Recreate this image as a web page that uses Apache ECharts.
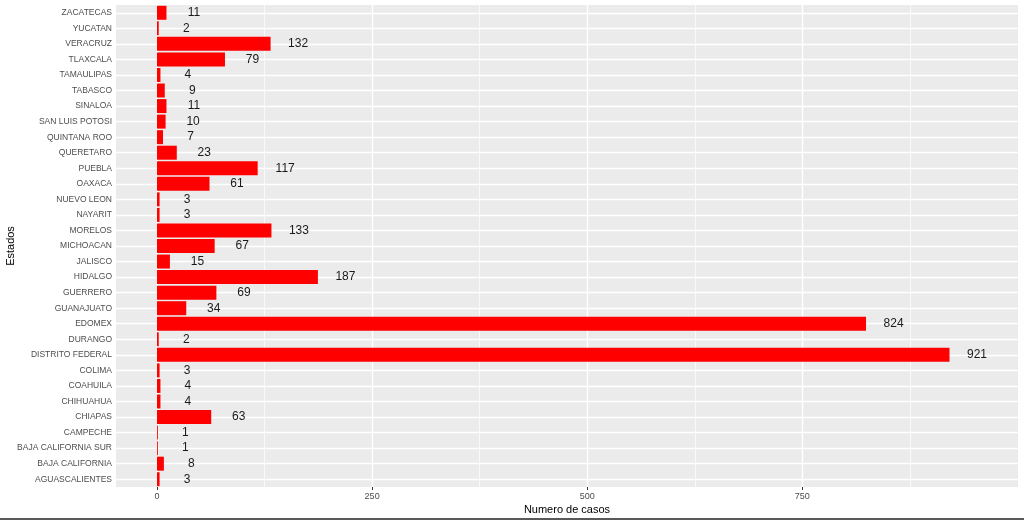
<!DOCTYPE html>
<html>
<head>
<meta charset="utf-8">
<style>
    html, body { margin: 0; padding: 0; background: #fff; }
    #main { width: 1024px; height: 520px; }
</style>
<script src="https://cdn.jsdelivr.net/npm/echarts@6/dist/echarts.min.js"></script>
</head>
<body>
<div id="main"></div>
<script>
    // estados, de abajo hacia arriba
    var estados = ['AGUASCALIENTES', 'BAJA CALIFORNIA', 'BAJA CALIFORNIA SUR', 'CAMPECHE', 'CHIAPAS',
        'CHIHUAHUA', 'COAHUILA', 'COLIMA', 'DISTRITO FEDERAL', 'DURANGO', 'EDOMEX', 'GUANAJUATO',
        'GUERRERO', 'HIDALGO', 'JALISCO', 'MICHOACAN', 'MORELOS', 'NAYARIT', 'NUEVO LEON', 'OAXACA',
        'PUEBLA', 'QUERETARO', 'QUINTANA ROO', 'SAN LUIS POTOSI', 'SINALOA', 'TABASCO', 'TAMAULIPAS',
        'TLAXCALA', 'VERACRUZ', 'YUCATAN', 'ZACATECAS'];
    var casos = [3, 8, 1, 1, 63, 4, 4, 3, 921, 2, 824, 34, 69, 187, 15, 67, 133, 3, 3, 61,
        117, 23, 7, 10, 11, 9, 4, 79, 132, 2, 11];
    var ticksX = [0, 250, 500, 750];
    var ticksMenores = [125, 375, 625, 875];

    var fuente = 'Liberation Sans, Arial, sans-serif';
    var myChart = echarts.init(document.getElementById('main'));

    // lineas de la cuadricula (debajo de las barras)
    var rejilla = [];
    ticksX.forEach(function (v) {
        rejilla.push({ xAxis: v, lineStyle: { color: '#fff', width: 1.4, type: 'solid' } });
    });
    ticksMenores.forEach(function (v) {
        rejilla.push({ xAxis: v, lineStyle: { color: '#fff', width: 0.7, type: 'solid' } });
    });
    estados.forEach(function (e) {
        rejilla.push({ yAxis: e, lineStyle: { color: '#fff', width: 1.4, type: 'solid' } });
    });

    var option = {
        animation: false,
        textStyle: { fontFamily: fuente },
        grid: {
            left: 116, right: 6, top: 5, bottom: 33,
            outerBoundsMode: 'none',
            containLabel: false,
            show: true, backgroundColor: '#EBEBEB', borderWidth: 0
        },
        xAxis: {
            type: 'value',
            min: -47.65,
            max: 1000.6,
            name: 'Numero de casos',
            nameLocation: 'middle',
            nameGap: 17,
            nameMoveOverlap: false,
            nameTextStyle: { color: '#000', fontSize: 11, fontFamily: fuente },
            axisLine: { show: false },
            axisTick: { show: true, length: 3, customValues: ticksX, lineStyle: { color: '#333' } },
            axisLabel: { customValues: ticksX, color: '#4D4D4D', fontSize: 9, margin: 5, fontFamily: fuente },
            splitLine: { show: false }
        },
        yAxis: {
            type: 'category',
            data: estados,
            name: 'Estados',
            nameLocation: 'middle',
            nameGap: 100,
            nameMoveOverlap: false,
            nameTextStyle: { color: '#000', fontSize: 11, fontFamily: fuente },
            axisLine: { show: false },
            axisTick: { show: true, length: 3, alignWithLabel: true, lineStyle: { color: '#333' } },
            axisLabel: { color: '#4D4D4D', fontSize: 8.5, margin: 4, fontFamily: fuente },
            splitLine: { show: false }
        },
        series: [
            {
                type: 'line',
                data: [],
                z: 1,
                silent: true,
                markLine: {
                    z: 1,
                    silent: true,
                    symbol: 'none',
                    label: { show: false },
                    animation: false,
                    data: rejilla
                }
            },
            {
                name: 'casos',
                type: 'bar',
                z: 3,
                data: casos,
                barWidth: '90%',
                itemStyle: { color: '#FF0000' },
                label: {
                    show: true,
                    position: 'right',
                    distance: 27.5,
                    align: 'center',
                    color: '#1a1a1a',
                    fontSize: 12,
                    fontFamily: fuente
                }
            }
        ],
        graphic: [{
            type: 'rect',
            left: 0,
            bottom: 0,
            shape: { width: 1024, height: 2 },
            style: { fill: '#595959' }
        }]
    };
    myChart.setOption(option);
</script>
</body>
</html>
